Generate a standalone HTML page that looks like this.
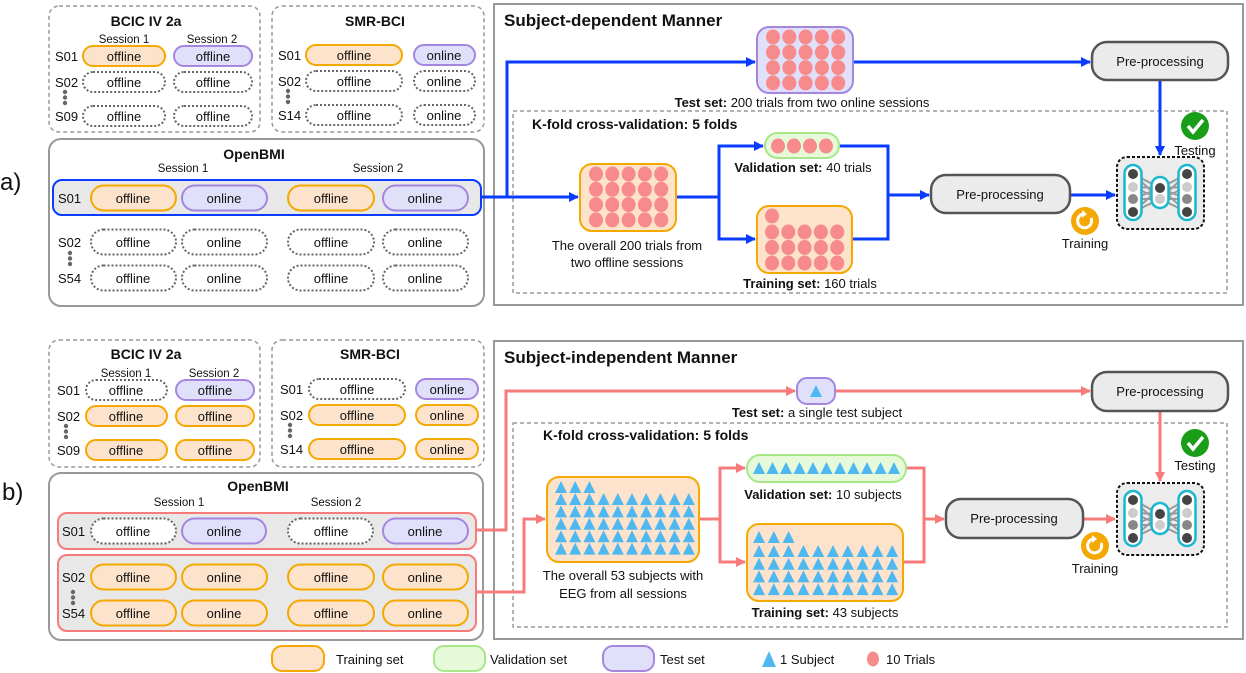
<!DOCTYPE html>
<html><head><meta charset="utf-8"><style>
html,body{margin:0;padding:0;background:#fff}
svg{display:block}
text{font-family:"Liberation Sans",sans-serif;fill:#111}
.p{font-size:13px;text-anchor:middle}
.t{font-size:14px;font-weight:bold;text-anchor:middle}
.s{font-size:11.5px;text-anchor:middle}
.l{font-size:13px}
.c{font-size:13px;text-anchor:middle}
</style></head><body>
<svg id="sv" width="1246" height="673" viewBox="0 0 1246 673" xmlns="http://www.w3.org/2000/svg">
<defs>
<marker id="ab" markerWidth="10" markerHeight="10" refX="9" refY="5" orient="auto" markerUnits="userSpaceOnUse"><path d="M0,0 L10,5 L0,10z" fill="#0a3cff"/></marker>
<marker id="ar" markerWidth="10" markerHeight="10" refX="9" refY="5" orient="auto" markerUnits="userSpaceOnUse"><path d="M0,0 L10,5 L0,10z" fill="#f77b7b"/></marker>
</defs>

<!-- ===== part a ===== -->
<text x="0" y="190" style="font-size:24px">a)</text>
<rect x="49" y="6" width="211" height="126" rx="10" fill="none" stroke="#999" stroke-width="1.5" stroke-dasharray="4,3"/>
<rect x="272" y="6" width="212" height="126" rx="10" fill="none" stroke="#999" stroke-width="1.5" stroke-dasharray="4,3"/>
<text class="t" x="146" y="26">BCIC IV 2a</text>
<text class="s" x="124" y="43">Session 1</text><text class="s" x="212" y="43">Session 2</text>
<text class="t" x="375" y="26">SMR-BCI</text>
<text class="l" x="55" y="61">S01</text><text class="l" x="55" y="87">S02</text><text class="l" x="55" y="121">S09</text>
<text class="l" x="278" y="60">S01</text><text class="l" x="278" y="86">S02</text><text class="l" x="278" y="120">S14</text>

<rect x="49" y="139" width="435" height="167" rx="12" fill="none" stroke="#999" stroke-width="2"/>
<text class="t" x="254" y="159">OpenBMI</text>
<text class="s" x="183" y="172">Session 1</text><text class="s" x="378" y="172">Session 2</text>
<rect x="53" y="180" width="428" height="35" rx="9" fill="#e8e8e8" stroke="#0a3cff" stroke-width="2"/>
<text class="l" x="58" y="203">S01</text><text class="l" x="58" y="247">S02</text><text class="l" x="58" y="283">S54</text>

<!-- right a -->
<rect x="494" y="4" width="749" height="301" fill="none" stroke="#999" stroke-width="2"/>
<text x="504" y="26" style="font-size:17px;font-weight:bold">Subject-dependent Manner</text>
<rect x="513" y="111" width="714" height="182" fill="none" stroke="#999" stroke-width="1.5" stroke-dasharray="4,3"/>
<text x="532" y="129" style="font-size:14px;font-weight:bold">K-fold cross-validation: 5 folds</text>
<polyline points="481,197 507,197 507,62 755,62" fill="none" stroke="#0a3cff" stroke-width="3" marker-end="url(#ab)"/>
<line x1="507" y1="197" x2="578" y2="197" stroke="#0a3cff" stroke-width="3" marker-end="url(#ab)"/>
<line x1="853" y1="62" x2="1090" y2="62" stroke="#0a3cff" stroke-width="3" marker-end="url(#ab)"/>
<polyline points="676,197 719,197 719,146 763,146" fill="none" stroke="#0a3cff" stroke-width="3" marker-end="url(#ab)"/>
<polyline points="719,197 719,239 755,239" fill="none" stroke="#0a3cff" stroke-width="3" marker-end="url(#ab)"/>
<polyline points="839,146 888,146 888,239 852,239" fill="none" stroke="#0a3cff" stroke-width="3"/>
<line x1="888" y1="195" x2="929" y2="195" stroke="#0a3cff" stroke-width="3" marker-end="url(#ab)"/>
<line x1="1070" y1="195" x2="1115" y2="195" stroke="#0a3cff" stroke-width="3" marker-end="url(#ab)"/>
<line x1="1160" y1="80" x2="1160" y2="155" stroke="#0a3cff" stroke-width="3" marker-end="url(#ab)"/>
<rect x="757" y="27" width="96" height="66" rx="12" fill="#e0e0fb" stroke="#a485e0" stroke-width="2"/>
<rect x="580" y="164" width="96" height="67" rx="12" fill="#fde3cc" stroke="#f5a800" stroke-width="2"/>
<rect x="765" y="133" width="74" height="25" rx="12.5" fill="#e6f9d9" stroke="#a8e68a" stroke-width="2"/>
<rect x="757" y="206" width="95" height="67" rx="12" fill="#fde3cc" stroke="#f5a800" stroke-width="2"/>
<rect x="1092" y="42" width="136" height="38" rx="15" fill="#ebebeb" stroke="#555" stroke-width="2.5"/>
<text class="c" x="1160" y="66">Pre-processing</text>
<rect x="931" y="175" width="139" height="38" rx="15" fill="#ebebeb" stroke="#555" stroke-width="2.5"/>
<text class="c" x="1000" y="199">Pre-processing</text>
<text class="c" x="802" y="107"><tspan font-weight="bold">Test set:</tspan> 200 trials from two online sessions</text>
<text class="c" x="803" y="172"><tspan font-weight="bold">Validation set:</tspan> 40 trials</text>
<text class="c" x="627" y="250">The overall 200 trials from</text>
<text class="c" x="627" y="267">two offline sessions</text>
<text class="c" x="810" y="288"><tspan font-weight="bold">Training set:</tspan> 160 trials</text>
<text class="c" x="1195" y="155">Testing</text>
<text class="c" x="1085" y="248">Training</text>

<!-- ===== part b ===== -->
<text x="2" y="500" style="font-size:24px">b)</text>
<rect x="49" y="340" width="211" height="127" rx="10" fill="none" stroke="#999" stroke-width="1.5" stroke-dasharray="4,3"/>
<rect x="272" y="340" width="212" height="127" rx="10" fill="none" stroke="#999" stroke-width="1.5" stroke-dasharray="4,3"/>
<text class="t" x="146" y="359">BCIC IV 2a</text>
<text class="s" x="126" y="377">Session 1</text><text class="s" x="214" y="377">Session 2</text>
<text class="t" x="370" y="359">SMR-BCI</text>
<text class="l" x="57" y="395">S01</text><text class="l" x="57" y="421">S02</text><text class="l" x="57" y="455">S09</text>
<text class="l" x="280" y="394">S01</text><text class="l" x="280" y="420">S02</text><text class="l" x="280" y="454">S14</text>

<rect x="49" y="473" width="434" height="167" rx="12" fill="none" stroke="#999" stroke-width="2"/>
<text class="t" x="258" y="491">OpenBMI</text>
<text class="s" x="179" y="506">Session 1</text><text class="s" x="336" y="506">Session 2</text>
<rect x="58" y="513" width="418" height="36" rx="9" fill="#e8e8e8" stroke="#f77b7b" stroke-width="2"/>
<rect x="58" y="555" width="418" height="76" rx="9" fill="#e8e8e8" stroke="#f77b7b" stroke-width="2"/>
<text class="l" x="62" y="536">S01</text><text class="l" x="62" y="582">S02</text><text class="l" x="62" y="618">S54</text>

<rect x="494" y="341" width="749" height="298" fill="none" stroke="#999" stroke-width="2"/>
<text x="504" y="363" style="font-size:17px;font-weight:bold">Subject-independent Manner</text>
<rect x="513" y="423" width="714" height="204" fill="none" stroke="#999" stroke-width="1.5" stroke-dasharray="4,3"/>
<text x="543" y="440" style="font-size:14px;font-weight:bold">K-fold cross-validation: 5 folds</text>
<polyline points="476,530 506,530 506,391 795,391" fill="none" stroke="#f77b7b" stroke-width="3" marker-end="url(#ar)"/>
<polyline points="476,592 524,592 524,519 545,519" fill="none" stroke="#f77b7b" stroke-width="3" marker-end="url(#ar)"/>
<line x1="835" y1="391" x2="1090" y2="391" stroke="#f77b7b" stroke-width="3" marker-end="url(#ar)"/>
<polyline points="699,519 720,519 720,468 745,468" fill="none" stroke="#f77b7b" stroke-width="3" marker-end="url(#ar)"/>
<polyline points="720,519 720,562 745,562" fill="none" stroke="#f77b7b" stroke-width="3" marker-end="url(#ar)"/>
<polyline points="906,468 924,468 924,562 903,562" fill="none" stroke="#f77b7b" stroke-width="3"/>
<line x1="924" y1="519" x2="944" y2="519" stroke="#f77b7b" stroke-width="3" marker-end="url(#ar)"/>
<line x1="1083" y1="519" x2="1115" y2="519" stroke="#f77b7b" stroke-width="3" marker-end="url(#ar)"/>
<line x1="1160" y1="411" x2="1160" y2="481" stroke="#f77b7b" stroke-width="3" marker-end="url(#ar)"/>
<rect x="797" y="378" width="38" height="26" rx="10" fill="#e0e0fb" stroke="#a485e0" stroke-width="2"/>
<rect x="547" y="477" width="152" height="85" rx="12" fill="#fde3cc" stroke="#f5a800" stroke-width="2"/>
<rect x="747" y="455" width="159" height="27" rx="13" fill="#e6f9d9" stroke="#a8e68a" stroke-width="2"/>
<rect x="747" y="524" width="156" height="77" rx="12" fill="#fde3cc" stroke="#f5a800" stroke-width="2"/>
<rect x="1092" y="372" width="136" height="39" rx="15" fill="#ebebeb" stroke="#555" stroke-width="2.5"/>
<text class="c" x="1160" y="396">Pre-processing</text>
<rect x="946" y="499" width="137" height="39" rx="15" fill="#ebebeb" stroke="#555" stroke-width="2.5"/>
<text class="c" x="1014" y="523">Pre-processing</text>
<text class="c" x="817" y="417"><tspan font-weight="bold">Test set:</tspan> a single test subject</text>
<text class="c" x="823" y="499"><tspan font-weight="bold">Validation set:</tspan> 10 subjects</text>
<text class="c" x="623" y="580">The overall 53 subjects with</text>
<text class="c" x="623" y="598">EEG from all sessions</text>
<text class="c" x="825" y="617"><tspan font-weight="bold">Training set:</tspan> 43 subjects</text>
<text class="c" x="1195" y="470">Testing</text>
<text class="c" x="1095" y="573">Training</text>

<!-- legend -->
<rect x="272" y="646" width="52" height="25" rx="10" fill="#fde3cc" stroke="#f5a800" stroke-width="2"/>
<text class="l" x="336" y="664">Training set</text>
<rect x="434" y="646" width="51" height="25" rx="10" fill="#e6f9d9" stroke="#a8e68a" stroke-width="2"/>
<text class="l" x="490" y="664">Validation set</text>
<rect x="603" y="646" width="51" height="25" rx="10" fill="#e0e0fb" stroke="#a485e0" stroke-width="2"/>
<text class="l" x="660" y="664">Test set</text>
<polygon points="769,651 776,667 762,667" fill="#4fb8f0"/>
<text class="l" x="780" y="664">1 Subject</text>
<ellipse cx="873" cy="659" rx="6" ry="7.5" fill="#f78a8a"/>
<text class="l" x="886" y="664">10 Trials</text>

<g id="g"></g>

<!-- pill texts -->
<g class="pt">
<text class="p" x="124" y="61">offline</text><text class="p" x="213" y="61">offline</text>
<text class="p" x="124" y="87">offline</text><text class="p" x="213" y="87">offline</text>
<text class="p" x="124" y="121">offline</text><text class="p" x="213" y="121">offline</text>
<text class="p" x="354" y="60">offline</text><text class="p" x="444" y="60">online</text>
<text class="p" x="354" y="86">offline</text><text class="p" x="444" y="86">online</text>
<text class="p" x="354" y="120">offline</text><text class="p" x="444" y="120">online</text>
<text class="p" x="133" y="203">offline</text><text class="p" x="224" y="203">online</text><text class="p" x="331" y="203">offline</text><text class="p" x="425" y="203">online</text>
<text class="p" x="133" y="247">offline</text><text class="p" x="224" y="247">online</text><text class="p" x="331" y="247">offline</text><text class="p" x="425" y="247">online</text>
<text class="p" x="133" y="283">offline</text><text class="p" x="224" y="283">online</text><text class="p" x="331" y="283">offline</text><text class="p" x="425" y="283">online</text>
<text class="p" x="126" y="395">offline</text><text class="p" x="215" y="395">offline</text>
<text class="p" x="126" y="421">offline</text><text class="p" x="215" y="421">offline</text>
<text class="p" x="126" y="455">offline</text><text class="p" x="215" y="455">offline</text>
<text class="p" x="357" y="394">offline</text><text class="p" x="447" y="394">online</text>
<text class="p" x="357" y="420">offline</text><text class="p" x="447" y="420">online</text>
<text class="p" x="357" y="454">offline</text><text class="p" x="447" y="454">online</text>
<text class="p" x="133" y="536">offline</text><text class="p" x="224" y="536">online</text><text class="p" x="331" y="536">offline</text><text class="p" x="425" y="536">online</text>
<text class="p" x="133" y="582">offline</text><text class="p" x="224" y="582">online</text><text class="p" x="331" y="582">offline</text><text class="p" x="425" y="582">online</text>
<text class="p" x="133" y="618">offline</text><text class="p" x="224" y="618">online</text><text class="p" x="331" y="618">offline</text><text class="p" x="425" y="618">online</text>
</g>
</svg>
<script>
(function(){
var g=document.getElementById('g'),h='';
var O=['#fde3cc','#f5a800',''],P=['#e0e0fb','#a485e0',''],D=['#fff','#666','2,2'];
function pill(x1,x2,cy,hh,st){h+='<rect x="'+x1+'" y="'+(cy-hh/2)+'" width="'+(x2-x1)+'" height="'+hh+'" rx="'+(hh/2)+'" fill="'+st[0]+'" stroke="'+st[1]+'" stroke-width="2"'+(st[2]?' stroke-dasharray="'+st[2]+'"':'')+'/>';}
pill(83,165,56,20,O);pill(174,252,56,20,P);
[82,116].forEach(function(y){pill(83,165,y,20,D);pill(174,252,y,20,D);});
pill(306,402,55,20,O);pill(414,475,55,20,P);
[81,115].forEach(function(y){pill(306,402,y,20,D);pill(414,475,y,20,D);});
var X=[[91,176],[182,267],[288,374],[383,468]];
pill(91,176,198,25,O);pill(182,267,198,25,P);pill(288,374,198,25,O);pill(383,468,198,25,P);
[242,278].forEach(function(y){X.forEach(function(a){pill(a[0],a[1],y,25,D);});});
pill(86,167,390,20,D);pill(176,254,390,20,P);
[416,450].forEach(function(y){pill(86,167,y,20,O);pill(176,254,y,20,O);});
pill(309,405,389,20,D);pill(416,478,389,20,P);
[415,449].forEach(function(y){pill(309,405,y,20,O);pill(416,478,y,20,O);});
pill(91,176,531,25,D);pill(182,266,531,25,P);pill(288,373,531,25,D);pill(383,468,531,25,P);
[577,613].forEach(function(y){X.forEach(function(a){pill(a[0],a[1],y,25,O);});});
[[65,92],[288,91],[70,253],[66,426],[290,425],[73,592]].forEach(function(p){for(var i=0;i<3;i++)h+='<circle cx="'+p[0]+'" cy="'+(p[1]+i*5.5)+'" r="2.2" fill="#666"/>';});
function circ(x,y){h+='<ellipse cx="'+x+'" cy="'+y+'" rx="7" ry="7.5" fill="#f78a8a"/>';}
function grid(x0,y0,nx,ny,dx,dy){for(var j=0;j<ny;j++)for(var i=0;i<nx;i++)circ(x0+i*dx,y0+j*dy);}
grid(773,37,5,4,16.3,15.3);grid(596,174,5,4,16.3,15.3);
for(var i=0;i<4;i++)circ(778+i*16,146);
circ(772,216);grid(772,232,5,3,16.3,15.5);
function tri(x,y){h+='<polygon points="'+x+','+(y-6)+' '+(x+6)+','+(y+6)+' '+(x-6)+','+(y+6)+'" fill="#4fb8f0"/>';}
function tg(x0,y0,nx,ny,dx,dy){for(var j=0;j<ny;j++)for(var i=0;i<nx;i++)tri(x0+i*dx,y0+j*dy);}
tri(816,391);
tg(561,487,3,1,14.2,0);tg(561,499,10,5,14.2,12.4);
tg(759,468,11,1,13.5,0);
tg(759,537,3,1,14.8,0);tg(759,551,10,4,14.8,12.7);
function net(x,y){
 h+='<rect x="'+x+'" y="'+y+'" width="87" height="72" rx="10" fill="#ececec" stroke="#111" stroke-width="2" stroke-dasharray="3,2"/>';
 var L=x+16,C=x+43,R=x+70,ys=[y+17,y+30,y+42,y+55],cs=['#444','#ccc','#888','#444'];
 ys.forEach(function(a){[y+31,y+42].forEach(function(b){h+='<line x1="'+L+'" y1="'+a+'" x2="'+C+'" y2="'+b+'" stroke="#999" stroke-width="2"/><line x1="'+R+'" y1="'+a+'" x2="'+C+'" y2="'+b+'" stroke="#999" stroke-width="2"/>';});});
 [L,R].forEach(function(cx){h+='<rect x="'+(cx-8.5)+'" y="'+(y+8)+'" width="17" height="55" rx="8.5" fill="#fff" stroke="#1bb6cf" stroke-width="2.5"/>';ys.forEach(function(a,i){h+='<circle cx="'+cx+'" cy="'+a+'" r="5" fill="'+cs[i]+'"/>';});});
 h+='<rect x="'+(C-8.5)+'" y="'+(y+20)+'" width="17" height="31" rx="8.5" fill="#fff" stroke="#1bb6cf" stroke-width="2.5"/>';
 h+='<circle cx="'+C+'" cy="'+(y+31)+'" r="5" fill="#444"/><circle cx="'+C+'" cy="'+(y+42)+'" r="5" fill="#ccc"/>';
}
net(1117,157);net(1117,483);
function check(x,y){h+='<circle cx="'+x+'" cy="'+y+'" r="14" fill="#1a9e1a"/><path d="M'+(x-7)+','+y+' L'+(x-2)+','+(y+6)+' L'+(x+8)+','+(y-6)+'" fill="none" stroke="#fff" stroke-width="3.5"/>';}
function train(x,y){h+='<circle cx="'+x+'" cy="'+y+'" r="14" fill="#f5a800"/><path d="M'+(x+6)+','+(y-3)+' A7,7 0 1 1 '+(x-2)+','+(y-7)+'" fill="none" stroke="#fff" stroke-width="3"/><path d="M'+(x-3)+','+(y-11)+' L'+(x+2)+','+(y-7)+' L'+(x-3)+','+(y-3)+'z" fill="#fff"/>';}
check(1195,126);check(1195,443);train(1085,221);train(1095,546);
g.innerHTML=h;
})();
</script>
</body></html>
